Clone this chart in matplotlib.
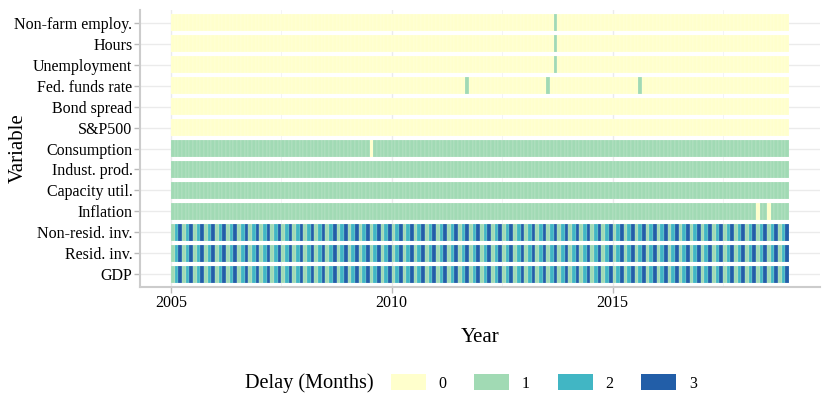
import matplotlib
matplotlib.use("Agg")
import matplotlib.pyplot as plt
import numpy as np
from matplotlib.patches import Patch

plt.rcParams['font.family'] = ['Liberation Serif', 'DejaVu Serif']

# variables, top to bottom
variables = ["Non-farm employ.", "Hours", "Unemployment", "Fed. funds rate",
             "Bond spread", "S&P500", "Consumption", "Indust. prod.",
             "Capacity util.", "Inflation", "Non-resid. inv.", "Resid. inv.", "GDP"]

n_months = 168               # Jan 2005 .. Dec 2018
start_year = 2005

# delay (months) per variable: base value plus exceptions {month index: delay}
base_delay = [0, 0, 0, 0, 0, 0, 1, 1, 1, 1, None, None, None]
exceptions = [
    {104: 1},                  # Non-farm employ.
    {104: 1},                  # Hours
    {104: 1},                  # Unemployment
    {80: 1, 102: 1, 127: 1},   # Fed. funds rate
    {}, {},                    # Bond spread, S&P500
    {54: 0},                   # Consumption
    {}, {},                    # Indust. prod., Capacity util.
    {159: 0, 162: 0},          # Inflation
    {}, {}, {},
]
quarterly_cycle = [1, 2, 3]    # quarterly series: delay within each quarter

delay_colors = ['#FFFFCC', '#A1DAB4', '#41B6C4', '#225EA8']
delay_labels = ['0', '1', '2', '3']

fig = plt.figure(figsize=(8.3, 4.15), dpi=100)
ax = fig.add_axes([0.1687, 0.3084, 0.8193, 0.6675])

months = start_year + np.arange(n_months) / 12.0
n_var = len(variables)
for i, name in enumerate(variables):
    row = n_var - 1 - i
    if base_delay[i] is None:
        d = np.array([quarterly_cycle[k % 3] for k in range(n_months)])
    else:
        d = np.full(n_months, base_delay[i])
    for k, v in exceptions[i].items():
        d[k] = v
    cols = [delay_colors[v] for v in d]
    ax.bar(months, 0.78, width=1 / 12.0, bottom=row - 0.39, align='edge',
           color=cols, edgecolor=(1, 1, 1, 0.35), linewidth=0.3, zorder=2)

ax.set_xlim(2004.3, 2019.7)
ax.set_ylim(-0.6, n_var - 1 + 0.6)
ax.set_yticks(range(n_var))
ax.set_yticklabels(variables[::-1], fontsize=11.5)
ax.set_xticks([2005, 2010, 2015])
ax.set_xticklabels(['2005', '2010', '2015'], fontsize=11.5)
ax.set_xticks([2007.5, 2012.5, 2017.5], minor=True)

ax.grid(True, which='major', color='#EBEBEB', linewidth=1.0, zorder=0)
ax.grid(True, which='minor', axis='x', color='#F3F3F3', linewidth=0.6, zorder=0)
ax.set_axisbelow(True)
for s in ['top', 'right']:
    ax.spines[s].set_visible(False)
for s in ['left', 'bottom']:
    ax.spines[s].set_color('#CCCCCC')
    ax.spines[s].set_linewidth(1.5)
ax.tick_params(axis='both', which='major', color='#BBBBBB', length=4, width=1)
ax.tick_params(axis='y', pad=1.5)
ax.tick_params(axis='x', pad=2)
ax.tick_params(axis='x', which='minor', length=0)

ax.set_xlabel('Year', fontsize=15, labelpad=12)
ax.set_ylabel('Variable', fontsize=15)
ax.yaxis.set_label_coords(-0.165, 0.5)

handles = [Patch(facecolor=c, edgecolor='none') for c in delay_colors]
fig.text(0.295, 0.077, 'Delay (Months)', fontsize=14.6, va='center', ha='left')
fig.legend(handles, delay_labels, loc='center left', bbox_to_anchor=(0.4705, 0.077),
           ncol=4, frameon=False, fontsize=11.5, handlelength=2.2, handleheight=1.1,
           handletextpad=0.8, columnspacing=1.73, borderaxespad=0, borderpad=0)

fig.savefig('out.png', dpi=100)
